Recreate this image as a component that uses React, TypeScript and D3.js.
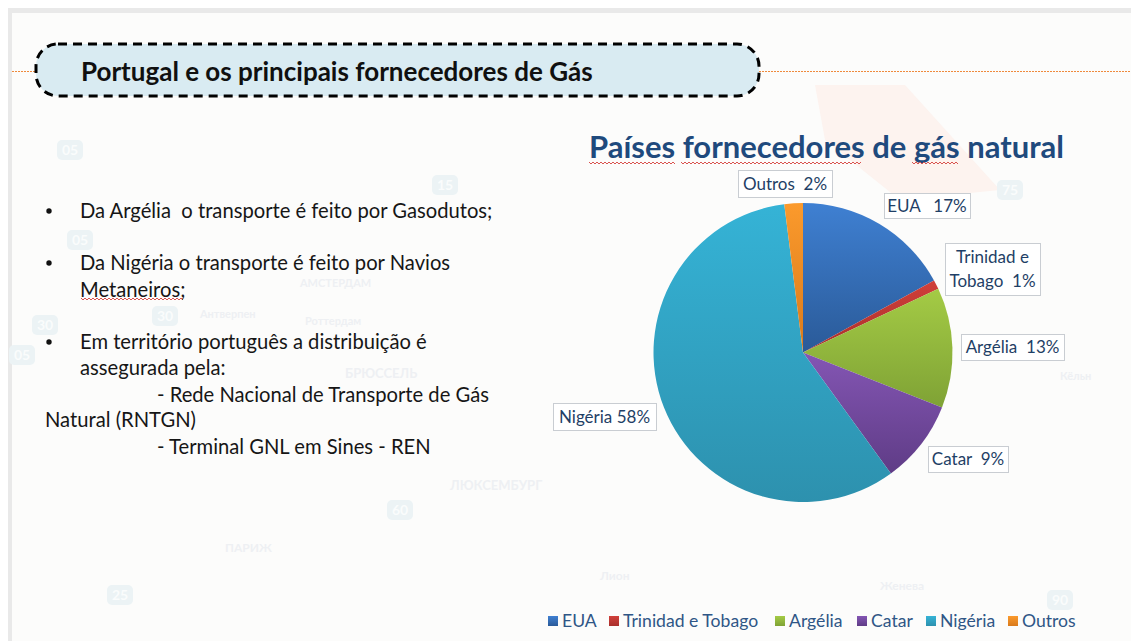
import React from "react";
import * as d3 from "d3";

const categories = ["EUA", "Trinidad e Tobago", "Argélia", "Catar", "Nigéria", "Outros"];
const shares = [17, 1, 13, 9, 58, 2];
const topColors = ["#3f80d2", "#d0403a", "#a4cb45", "#8456b4", "#35b3d6", "#fb9a2c"];
const bottomColors = ["#2a5a98", "#a92f2b", "#7fa235", "#5f3c86", "#2d91ae", "#d97a1c"];
const labelLines = [["EUA   17%"], ["Trinidad e", "Tobago  1%"], ["Argélia  13%"], ["Catar  9%"], ["Nigéria 58%"], ["Outros  2%"]];
const labelBoxes = [[884, 193, 86, 25], [945, 243, 95, 52], [961, 334, 103, 26], [928, 446, 80, 26], [553, 403, 103, 27], [738, 170, 94, 27]];
const legendX = [548, 609, 775, 857, 926, 1008];
const bullets = [
  { x: 80, y: 218, t: "Da Argélia  o transporte é feito por Gasodutos;", b: true },
  { x: 80, y: 270, t: "Da Nigéria o transporte é feito por Navios", b: true },
  { x: 80, y: 297, t: "Metaneiros;", b: false },
  { x: 80, y: 349, t: "Em território português a distribuição é", b: true },
  { x: 80, y: 375, t: "assegurada pela:", b: false },
  { x: 157, y: 402, t: "- Rede Nacional de Transporte de Gás", b: false },
  { x: 45, y: 427, t: "Natural (RNTGN)", b: false },
  { x: 157, y: 454, t: "- Terminal GNL em Sines - REN", b: false },
];
const mapWords = [
  { t: "АМСТЕРДАМ", x: 300, y: 287, s: 11 },
  { t: "БРЮССЕЛЬ", x: 345, y: 378, s: 13 },
  { t: "ЛЮКСЕМБУРГ", x: 450, y: 490, s: 13 },
  { t: "ПАРИЖ", x: 225, y: 552, s: 12 },
  { t: "Роттердам", x: 305, y: 325, s: 11 },
  { t: "Кёльн", x: 1060, y: 380, s: 11 },
  { t: "Антверпен", x: 200, y: 318, s: 11 },
  { t: "Лион", x: 600, y: 580, s: 12 },
  { t: "Женева", x: 880, y: 590, s: 12 },
];
const mapRoads = ["05", "30", "30", "05", "15", "05", "75", "60", "25", "90"];
const roadX = [70, 45, 165, 22, 445, 80, 1010, 400, 120, 1060];
const roadY = [150, 325, 316, 355, 185, 240, 190, 510, 595, 600];

const squiggle = (x0: number, x1: number, y: number) => {
  const pts: [number, number][] = d3.range(x0, x1, 2).map((x, i) => [x, y + (i % 2) * 2]);
  return d3.line()(pts) as string;
};

const cx = 803, cy = 352.5, r = 149.5;
const font = "Lato, Carlito, sans-serif";

export default function App() {
  const pie = d3.pie<number>().sort(null).value((d) => d)(shares);
  const arc = d3.arc<d3.PieArcDatum<number>>().innerRadius(0).outerRadius(r);
  return (
    <svg width={1131} height={641} style={{ position: "fixed", left: 0, top: 0 }} fontFamily={font}>
      <defs>
        {categories.map((c, i) => (
          <linearGradient key={c} id={`k${i}`} x1={0} x2={0} y1={0} y2={1}>
            <stop offset="0" stopColor={topColors[i]} />
            <stop offset="1" stopColor={bottomColors[i]} />
          </linearGradient>
        ))}
      </defs>
      <rect width={1131} height={641} fill="#ffffff" />
      <rect x={8} y={8} width={1123} height={633} fill="#e9e9e9" />
      <rect x={12} y={13} width={1119} height={628} fill="#fcfcfb" />
      <path d="M815 85 L905 85 L1000 190 L900 200 L825 140 Z" fill="#fdf3ef" />
      <g fill="#eef0f3" fontWeight={700}>
        {mapWords.map((w) => (
          <text key={w.t} x={w.x} y={w.y} fontSize={w.s}>{w.t}</text>
        ))}
      </g>
      <g>
        {mapRoads.map((t, i) => (
          <g key={i}>
            <rect x={roadX[i] - 13} y={roadY[i] - 10} width={26} height={20} rx={5} fill="#ecf3f5" />
            <text x={roadX[i]} y={roadY[i] + 5} fontSize={14} fontWeight={700} fill="#fafcfc" textAnchor="middle">{t}</text>
          </g>
        ))}
      </g>
      <line x1={12} x2={1131} y1={71.5} y2={71.5} stroke="#ef8a3c" strokeWidth={1.2} strokeDasharray="2 1" />
      <rect x={36} y={44} width={723} height={52} rx={22} fill="#d9ebf2" stroke="#000" strokeWidth={3} strokeDasharray="9 6" />
      <text x={81} y={81} fontSize={26} fontWeight={700} fill="#101010">Portugal e os principais fornecedores de Gás</text>

      <text x={589} y={158} fontSize={31} fontWeight={700} fill="#1f4a7d">Países fornecedores de gás natural</text>
      <g fill="none" stroke="#d9534f" strokeWidth={1}>
        <path d={squiggle(589, 677, 162)} />
        <path d={squiggle(681, 863, 162)} />
        <path d={squiggle(912, 960, 162)} />
        <path d={squiggle(81, 185, 298)} />
      </g>

      <g fontSize={20.2} fill="#161616">
        {bullets.map((l) => (
          <g key={l.t}>
            {l.b && <circle cx={49} cy={l.y - 7} r={2.7} fill="#111" />}
            <text x={l.x} y={l.y} xmlSpace="preserve">{l.t}</text>
          </g>
        ))}
      </g>

      <g>
        {pie.map((d, i) => (
          <path key={categories[i]} d={arc(d) as string} transform={`translate(${cx},${cy})`} fill={`url(#k${i})`} />
        ))}
      </g>

      <g fontSize={17} fill="#1f3f66">
        {labelLines.map((lines, i) => {
          const [x, y, w, h] = labelBoxes[i];
          return (
            <g key={i}>
              <rect x={x + 0.5} y={y + 0.5} width={w} height={h} fill="#ffffff" stroke="#c9cdd2" />
              {lines.map((t, j) => (
                <text key={j} x={x + w / 2} y={y + h / 2 + 6 + (j - (lines.length - 1) / 2) * 24} textAnchor="middle" xmlSpace="preserve">{t}</text>
              ))}
            </g>
          );
        })}
      </g>

      <g fontSize={17.6} fill="#2f5686">
        {categories.map((c, i) => (
          <g key={c}>
            <rect x={legendX[i]} y={616} width={10} height={10} fill={`url(#k${i})`} />
            <text x={legendX[i] + 14} y={627}>{c}</text>
          </g>
        ))}
      </g>
    </svg>
  );
}
